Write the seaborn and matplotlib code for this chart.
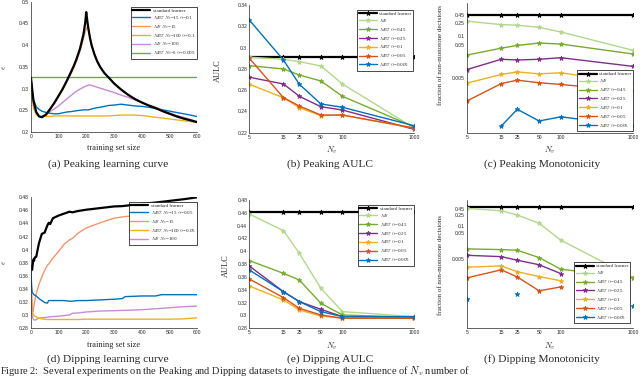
import numpy as np
import pandas as pd
import seaborn as sns
import matplotlib.pyplot as plt
from matplotlib.lines import Line2D

# ---- values ----
nv = [5, 15, 25, 50, 100, 1000]

# (a) peaking learning curves
x_peak = [1, 5, 10, 20, 30, 40, 55, 70, 85, 100, 115, 130, 145, 155, 165, 178, 190, 196, 200, 204,
          208, 214, 220, 230, 240, 250, 265, 280, 300, 325, 350, 375, 400, 425, 450, 475, 500, 525,
          550, 575, 600]
peak_std = [0.325, 0.300, 0.272, 0.246, 0.236, 0.234, 0.240, 0.253, 0.267, 0.283, 0.299, 0.318, 0.338,
            0.352, 0.368, 0.393, 0.425, 0.450, 0.476, 0.455, 0.437, 0.415, 0.398, 0.378, 0.362, 0.350,
            0.336, 0.326, 0.312, 0.298, 0.286, 0.276, 0.268, 0.261, 0.255, 0.248, 0.242, 0.236, 0.231,
            0.227, 0.2225]
peak_bt15 = [0.325, 0.300, 0.275, 0.258, 0.252, 0.248, 0.245, 0.243, 0.242, 0.242, 0.244, 0.246, 0.247,
             0.248, 0.249, 0.250, 0.251, 0.251, 0.251, 0.251, 0.251, 0.252, 0.253, 0.255, 0.256, 0.257,
             0.259, 0.261, 0.262, 0.264, 0.262, 0.260, 0.259, 0.257, 0.254, 0.251, 0.248, 0.245, 0.242,
             0.239, 0.2355]
peak_s15 = [0.325, 0.296, 0.266, 0.243, 0.235, 0.234, 0.239, 0.252, 0.265, 0.281, 0.297, 0.315, 0.334,
            0.348, 0.363, 0.387, 0.415, 0.430, 0.437, 0.442, 0.436, 0.417, 0.400, 0.379, 0.363, 0.350,
            0.336, 0.326, 0.312, 0.298, 0.286, 0.276, 0.268, 0.261, 0.255, 0.248, 0.242, 0.236, 0.231,
            0.227, 0.2225]
peak_bt100 = [0.325, 0.285, 0.255, 0.240, 0.236, 0.235, 0.236, 0.236, 0.237, 0.237, 0.237, 0.237, 0.237,
              0.237, 0.237, 0.237, 0.237, 0.237, 0.237, 0.237, 0.237, 0.237, 0.237, 0.237, 0.237, 0.237,
              0.237, 0.237, 0.238, 0.239, 0.239, 0.239, 0.238, 0.236, 0.234, 0.232, 0.230, 0.228, 0.226,
              0.224, 0.2225]
peak_s100 = [0.300, 0.280, 0.262, 0.244, 0.236, 0.236, 0.240, 0.247, 0.253, 0.260, 0.268, 0.276, 0.284,
             0.289, 0.294, 0.299, 0.303, 0.305, 0.306, 0.307, 0.308, 0.308, 0.307, 0.305, 0.303, 0.301,
             0.298, 0.295, 0.291, 0.285, 0.280, 0.274, 0.268, 0.262, 0.257, 0.250, 0.244, 0.238, 0.234,
             0.229, 0.224]
x_flat = [1, 600]
peak_bt5 = [0.326, 0.326]

# (d) dipping learning curves
x_dip = [1, 3, 5, 8, 10, 12, 15, 20, 25, 30, 40, 50, 60, 65, 70, 80, 100, 120, 140, 150, 170, 200,
         250, 300, 330, 340, 400, 450, 470, 500, 550, 600]
dip_std = [0.375, 0.372, 0.369, 0.380, 0.385, 0.383, 0.388, 0.389, 0.400, 0.410, 0.424, 0.426, 0.437,
           0.441, 0.439, 0.448, 0.452, 0.455, 0.458, 0.457, 0.459, 0.461, 0.4635, 0.466, 0.4665, 0.467,
           0.470, 0.472, 0.473, 0.4745, 0.477, 0.480]
dip_bt15 = [0.375, 0.345, 0.335, 0.333, 0.332, 0.331, 0.330, 0.329, 0.327, 0.325, 0.322, 0.319, 0.318,
            0.322, 0.322, 0.322, 0.322, 0.322, 0.321, 0.321, 0.322, 0.322, 0.323, 0.324, 0.325, 0.328,
            0.329, 0.329, 0.331, 0.331, 0.331, 0.331]
dip_s15 = [0.375, 0.335, 0.310, 0.305, 0.310, 0.315, 0.322, 0.333, 0.340, 0.347, 0.358, 0.368, 0.376,
           0.378, 0.381, 0.387, 0.397, 0.408, 0.415, 0.417, 0.425, 0.433, 0.441, 0.448, 0.450, 0.4505,
           0.453, 0.458, 0.461, 0.466, 0.469, 0.471]
dip_bt100 = [0.375, 0.330, 0.310, 0.302, 0.300, 0.299, 0.298, 0.297, 0.296, 0.295, 0.294, 0.2935, 0.293,
             0.293, 0.293, 0.293, 0.293, 0.293, 0.293, 0.293, 0.293, 0.2935, 0.2935, 0.2935, 0.2935,
             0.2935, 0.2935, 0.2935, 0.2935, 0.2935, 0.294, 0.2955]
dip_s100 = [0.375, 0.320, 0.300, 0.295, 0.293, 0.2925, 0.292, 0.293, 0.294, 0.295, 0.2955, 0.296, 0.2965,
            0.297, 0.297, 0.2975, 0.298, 0.299, 0.300, 0.3025, 0.303, 0.3045, 0.306, 0.3065, 0.307, 0.307,
            0.308, 0.3095, 0.310, 0.311, 0.3125, 0.3135]

# (b) peaking AULC
pa_std = [0.291, 0.291, 0.291, 0.291, 0.291, 0.291]
pa_s = [0.291, 0.289, 0.2868, 0.2827, 0.2658, 0.2245]
pa_45 = [0.283, 0.2799, 0.2742, 0.2686, 0.2542, 0.2255]
pa_25 = [0.2721, 0.2658, 0.2542, 0.2444, 0.2413, 0.2232]
pa_10 = [0.2655, 0.2529, 0.2435, 0.236, 0.2365, 0.2244]
pa_05 = [0.290, 0.2529, 0.2451, 0.2366, 0.2366, 0.2244]
pa_005 = [0.3259, 0.2883, 0.2655, 0.247, 0.2439, 0.2266]

# (c) peaking monotonicity (nan = zero, not shown on log axis)
pm_std = [0.42, 0.42, 0.42, 0.42, 0.42, 0.42]
pm_s = [0.28, 0.22, 0.21, 0.18, 0.13, 0.035]
pm_45 = [0.025, 0.041, 0.05, 0.059, 0.055, 0.027]
pm_25 = [0.0089, 0.0186, 0.0177, 0.0186, 0.0208, 0.0112]
pm_10 = [0.0034, 0.0063, 0.0076, 0.0066, 0.0071, 0.0034]
pm_05 = [0.00095, 0.0033, 0.0042, 0.0035, 0.0031, 0.0019]
pm_005 = [np.nan, 0.00016, 0.00053, 0.00023, 0.00031, 0.00016]

# (e) dipping AULC
da_std = [0.4618, 0.4618, 0.4618, 0.4618, 0.4618, 0.4618]
da_s = [0.4582, 0.4322, 0.3969, 0.3423, 0.306, 0.2982]
da_45 = [0.3855, 0.3657, 0.3553, 0.319, 0.3008, 0.2971]
da_25 = [0.3771, 0.3371, 0.3216, 0.3096, 0.2982, 0.2971]
da_10 = [0.346, 0.3242, 0.3086, 0.2992, 0.2956, 0.2956]
da_05 = [0.3569, 0.3278, 0.3112, 0.3008, 0.2956, 0.2956]
da_005 = [0.3709, 0.3371, 0.3216, 0.306, 0.2982, 0.2982]

# (f) dipping monotonicity
dm_std = [0.55, 0.55, 0.55, 0.55, 0.55, 0.55]
dm_s = [0.47, 0.38, 0.26, 0.124, 0.027, 0.00095]
dm_45 = [0.0124, 0.0117, 0.011, 0.0057, 0.002, 0.00095]
dm_25 = [0.0070, 0.0062, 0.0045, 0.0030, 0.00135, np.nan]
dm_10 = [0.0024, 0.0027, 0.0016, 0.00104, 0.00071, np.nan]
dm_05 = [0.00092, 0.0019, 0.0010, 0.00029, 0.00041, np.nan]
dm_005 = [0.00014, np.nan, 0.00021, np.nan, np.nan, 0.000071]

# ---- style ----
C_BLUE, C_ORANGE, C_YELLOW = '#0072BD', '#D95319', '#EDB120'
C_PURPLE, C_GREEN, C_LGREEN = '#7E2F8E', '#77AC30', '#B3D88C'
C_SALMON, C_LPURPLE = '#F4956E', '#C98BD6'

sns.set_style('white')
plt.rcParams['font.family'] = ['Liberation Serif', 'DejaVu Serif']
plt.rcParams['mathtext.fontset'] = 'cm'

SANS = 'Liberation Sans'
TICK_FS = 3.6
LEG_FS = 3.6


def draw(ax, x, y, color, lw=1.0, marker=None, ms=3.5):
    df = pd.DataFrame({'x': x, 'y': y})
    ok = df['y'].notna()
    runs = (~ok).cumsum()
    for _, seg in df[ok].groupby(runs[ok]):
        if len(seg) > 1:
            sns.lineplot(data=seg, x='x', y='y', ax=ax, color=color, lw=lw, marker=marker,
                         markersize=ms, markeredgecolor=color, markeredgewidth=0.6,
                         estimator=None, sort=False)
        else:
            sns.scatterplot(data=seg, x='x', y='y', ax=ax, color=color, marker=marker,
                            s=ms ** 2, edgecolor=color, linewidth=0.6)


def style(ax):
    sns.despine(ax=ax)
    for s in ['left', 'bottom']:
        ax.spines[s].set_linewidth(0.5)
        ax.spines[s].set_color('#262626')
    ax.tick_params(direction='in', length=2, width=0.5, pad=1.5, colors='#262626')
    for lab in ax.get_xticklabels() + ax.get_yticklabels():
        lab.set_fontsize(TICK_FS)
        lab.set_family(SANS)
    ax.set_xlabel('')
    ax.set_ylabel('')


def legend(ax, handles, labels, loc, anchor):
    leg = ax.legend(handles, labels, loc=loc, bbox_to_anchor=anchor, borderaxespad=0,
                    fontsize=LEG_FS, frameon=True, fancybox=False, framealpha=1,
                    edgecolor='black', labelspacing=0.2, borderpad=0.3, handlelength=3.6,
                    handletextpad=0.5)
    leg.get_frame().set_linewidth(0.5)


W, H = 640, 379
fig = plt.figure(figsize=(6.4, 3.79), dpi=100)


def box(l, t, r, b):
    return fig.add_axes([l / W, 1 - b / H, (r - l) / W, (b - t) / H])


axa = box(30.7, 1.7, 197.3, 132)
axb = box(249.3, 5, 414, 132.7)
axc = box(466.7, 3.3, 633.3, 132.7)
axd = box(30.7, 197.3, 197.3, 328)
axe = box(249.3, 200, 414, 328.3)
axf = box(466.7, 200, 633.3, 328.3)

# ---- learning curves ----
curves_a = [(peak_std, 'black', 1.6), (peak_bt15, C_BLUE, 1.0), (peak_s15, C_SALMON, 1.0),
            (peak_bt100, C_YELLOW, 1.0), (peak_s100, C_LPURPLE, 1.0)]
draw(axa, x_flat, peak_bt5, C_GREEN, 1.0)
for y, c, lw in curves_a[::-1]:
    draw(axa, x_peak, y, c, lw)
axa.set_xlim(0, 600)
axa.set_ylim(0.2, 0.5)
axa.set_xticks([0, 100, 200, 300, 400, 500, 600])
axa.set_yticks([0.2, 0.25, 0.3, 0.35, 0.4, 0.45, 0.5])
axa.set_yticklabels(['0.2', '0.25', '0.3', '0.35', '0.4', '0.45', '0.5'])
style(axa)
labs_a = ['standard learner', r'$M_{BT}$ $N_v$=15 $\alpha$=0.1', r'$M_S$ $N_v$=15',
          r'$M_{BT}$ $N_v$=100 $\alpha$=0.1', r'$M_S$ $N_v$=100', r'$M_{BT}$ $N_v$=5 $\alpha$=0.005']
cols_a = ['black', C_BLUE, C_SALMON, C_YELLOW, C_LPURPLE, C_GREEN]
legend(axa, [Line2D([], [], color=c, lw=1.6 if c == 'black' else 1.0) for c in cols_a], labs_a,
       'upper right', (0.998, 0.959))

curves_d = [(dip_std, 'black', 1.6), (dip_bt15, C_BLUE, 1.0), (dip_s15, C_SALMON, 1.0),
            (dip_bt100, C_YELLOW, 1.0), (dip_s100, C_LPURPLE, 1.0)]
for y, c, lw in curves_d[::-1]:
    draw(axd, x_dip, y, c, lw)
axd.set_xlim(0, 600)
axd.set_ylim(0.28, 0.48)
axd.set_xticks([0, 100, 200, 300, 400, 500, 600])
yt = [0.28, 0.3, 0.32, 0.34, 0.36, 0.38, 0.4, 0.42, 0.44, 0.46, 0.48]
axd.set_yticks(yt)
axd.set_yticklabels([f'{v:g}' for v in yt])
style(axd)
labs_d = ['standard learner', r'$M_{BT}$ $N_v$=15 $\alpha$=0.05', r'$M_S$ $N_v$=15',
          r'$M_{BT}$ $N_v$=100 $\alpha$=0.05', r'$M_S$ $N_v$=100']
cols_d = ['black', C_BLUE, C_SALMON, C_YELLOW, C_LPURPLE]
legend(axd, [Line2D([], [], color=c, lw=1.6 if c == 'black' else 1.0) for c in cols_d], labs_d,
       'upper right', (1.0, 0.964))

# ---- N_v sweeps ----
labs_nv = ['standard learner', r'$M_S$', r'$M_{BT}$ $\alpha$=0.45', r'$M_{BT}$ $\alpha$=0.25',
           r'$M_{BT}$ $\alpha$=0.1', r'$M_{BT}$ $\alpha$=0.05', r'$M_{BT}$ $\alpha$=0.005']
cols_nv = ['black', C_LGREEN, C_GREEN, C_PURPLE, C_YELLOW, C_ORANGE, C_BLUE]
hand_nv = [Line2D([], [], color=c, lw=1.6 if c == 'black' else 1.0, marker='*', ms=3.5,
                  mec=c, mew=0.6) for c in cols_nv]

sweeps = {
    axb: [pa_std, pa_s, pa_45, pa_25, pa_10, pa_05, pa_005],
    axc: [pm_std, pm_s, pm_45, pm_25, pm_10, pm_05, pm_005],
    axe: [da_std, da_s, da_45, da_25, da_10, da_05, da_005],
    axf: [dm_std, dm_s, dm_45, dm_25, dm_10, dm_05, dm_005],
}
for ax, series in sweeps.items():
    for y, c in zip(series, cols_nv):
        draw(ax, nv, y, c, 1.6 if c == 'black' else 1.0, marker='*')
    ax.set_xscale('log')
    ax.set_xlim(5, 1000)
    ax.set_xticks(nv)
    ax.set_xticklabels([str(v) for v in nv])
    ax.minorticks_off()

axb.set_ylim(0.22, 0.34)
yt = [0.22, 0.24, 0.26, 0.28, 0.3, 0.32, 0.34]
axb.set_yticks(yt)
axb.set_yticklabels([f'{v:g}' for v in yt])
axe.set_ylim(0.28, 0.48)
yt = [0.28, 0.3, 0.32, 0.34, 0.36, 0.38, 0.4, 0.42, 0.44, 0.46, 0.48]
axe.set_yticks(yt)
axe.set_yticklabels([f'{v:g}' for v in yt])
for ax, lo in [(axc, 1e-4), (axf, 1e-5)]:
    ax.set_yscale('log')
    ax.set_ylim(lo, 1)
    ax.set_yticks([0.005, 0.05, 0.1, 0.25, 0.45])
    ax.set_yticklabels(['0.005', '0.05', '0.1', '0.25', '0.45'])
    ax.minorticks_off()
for ax in [axb, axc, axe, axf]:
    style(ax)

legend(axb, hand_nv, labs_nv, 'upper right', (0.994, 0.961))
legend(axe, hand_nv, labs_nv, 'upper right', (0.998, 0.961))
legend(axc, hand_nv, labs_nv, 'lower right', (0.998, 0.013))
legend(axf, hand_nv, labs_nv, 'lower right', (0.98, 0.041))

# ---- axis labels ----
LAB_FS = 6
for ax in [axa, axd]:
    ax.set_ylabel(r'$\tilde{\epsilon}$', fontsize=LAB_FS)
    ax.yaxis.set_label_coords(-0.136, 0.5)
    ax.set_xlabel('training set size', fontsize=LAB_FS)
axa.xaxis.set_label_coords(0.5, -0.09)
axd.xaxis.set_label_coords(0.5, -0.1)
for ax, xc in [(axb, -0.168), (axe, -0.117)]:
    ax.set_ylabel('AULC', fontsize=LAB_FS)
    ax.yaxis.set_label_coords(xc, 0.49)
for ax, yc in [(axc, 0.6), (axf, 0.49)]:
    ax.set_ylabel('fraction of non-monotone decisions', fontsize=5)
    ax.yaxis.set_label_coords(-0.14, yc)
for ax, yc in [(axb, -0.095), (axc, -0.095), (axe, -0.095), (axf, -0.095)]:
    ax.set_xlabel(r'$N_v$', fontsize=LAB_FS)
    ax.xaxis.set_label_coords(0.5, yc)

# ---- sub-captions and figure caption ----
CAP_FS = 8.2
for x, y, t in [(108, 164, '(a) Peaking learning curve'), (330, 164, '(b) Peaking AULC'),
                (542, 164, '(c) Peaking Monotonicity'), (108, 359, '(d) Dipping learning curve'),
                (330, 359, '(e) Dipping AULC'), (542, 359, '(f) Dipping Monotonicity')]:
    fig.text(x / W, 1 - y / H, t, ha='center', va='center', fontsize=CAP_FS)
fig.text(0.0, 0.003, r'Figure 2:  Several experiments on the Peaking and Dipping datasets to '
         r'investigate the influence of $N_v$ number of', ha='left', va='bottom', fontsize=7.5)

fig.savefig('out.png', dpi=100)
